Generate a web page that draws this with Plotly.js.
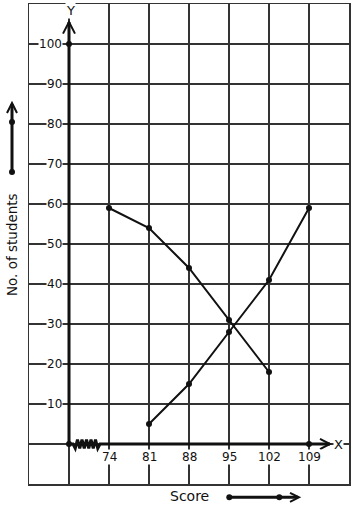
<!DOCTYPE html>
<html>
<head>
<meta charset="utf-8">
<script src="https://cdn.plot.ly/plotly-3.0.1.min.js"></script>
<style>html,body{margin:0;padding:0;background:#fff;}#chart{width:354px;height:510px;}</style>
</head>
<body>
<div id="chart"></div>
<script>
// Data
const scores = [74, 81, 88, 95, 102, 109];
const lessThanX = [81, 88, 95, 102, 109];
const lessThanY = [5, 15, 28, 41, 59];
const moreThanX = [74, 81, 88, 95, 102];
const moreThanY = [59, 54, 44, 31, 18];
const yTickVals = [10, 20, 30, 40, 50, 60, 70, 80, 90, 100];
const yTickText = ['10', '20', '30', '40', '50', '60', '70', '80', '90', '100'];
const xTickText = ['74', '81', '88', '95', '102', '109'];
const axisDotsX = [67, 67, 109];
const axisDotsY = [0, 100, 0];

const FONT = 'DejaVu Sans, Verdana, sans-serif';
const INK = '#111';
const GRID = '#333';

const xGrid = [];
for (let v = 60; v <= 116; v += 7) xGrid.push(v);
const yGrid = [];
for (let v = -10; v <= 110; v += 10) yGrid.push(v);

const traces = [
  {x: moreThanX, y: moreThanY, name: 'More than', mode: 'lines+markers',
   line: {color: INK, width: 2}, marker: {color: INK, size: 6}, cliponaxis: false},
  {x: lessThanX, y: lessThanY, name: 'Less than', mode: 'lines+markers',
   line: {color: INK, width: 2}, marker: {color: INK, size: 6}, cliponaxis: false},
  {x: axisDotsX, y: axisDotsY, mode: 'markers', marker: {color: INK, size: 6},
   cliponaxis: false, hoverinfo: 'skip', showlegend: false}
];

const annotations = [];
yTickVals.forEach((v, i) => {
  annotations.push({xref: 'paper', yref: 'y', x: (63 - 29) / 320, y: v, xanchor: 'right', yanchor: 'middle',
    text: yTickText[i], showarrow: false, bgcolor: '#fff', borderpad: 0,
    font: {family: FONT, size: 12, color: INK}});
});
scores.forEach((v, i) => {
  annotations.push({xref: 'x', yref: 'y', x: v, y: -3.2, xanchor: 'center', yanchor: 'middle',
    text: xTickText[i], showarrow: false, bgcolor: '#fff', borderpad: 0,
    font: {family: FONT, size: 12, color: INK}});
});
annotations.push({xref: 'paper', yref: 'paper', x: (338 - 29) / 320, y: (484 - 444) / 480,
  xanchor: 'center', yanchor: 'middle', text: 'X', showarrow: false, bgcolor: '#fff', borderpad: 0,
  font: {family: FONT, size: 13, color: INK}});
annotations.push({xref: 'paper', yref: 'paper', x: (70.5 - 29) / 320, y: (484 - 11) / 480,
  xanchor: 'center', yanchor: 'middle', text: 'Y', showarrow: false, bgcolor: '#fff', borderpad: 0,
  font: {family: FONT, size: 13, color: INK}});
annotations.push({xref: 'paper', yref: 'paper', x: (12 - 29) / 320, y: (484 - 245) / 480,
  xanchor: 'center', yanchor: 'middle', text: 'No. of students', textangle: -90, showarrow: false,
  font: {family: FONT, size: 13.5, color: INK}});
annotations.push({xref: 'paper', yref: 'paper', x: (189 - 29) / 320, y: (484 - 496) / 480,
  xanchor: 'center', yanchor: 'middle', text: 'Score', showarrow: false,
  font: {family: FONT, size: 14, color: INK}});

// decorations
const px2x = p => 60 + (p - 29) * 56 / 320;
const shapes = [];
// y axis with arrow
shapes.push({type: 'line', xref: 'x', yref: 'y', x0: 67, y0: 0, x1: 67, y1: 105.5, line: {color: INK, width: 3}});
shapes.push({type: 'path', xref: 'x', yref: 'y', path: 'M 65.95,102.6 L 67,105.5 L 68.05,102.6', line: {color: INK, width: 2}});
// x axis with zigzag and arrow
let zz = 'M 67,0 L ' + px2x(73) + ',0';
const z0 = px2x(73), z1 = px2x(100), nSeg = 12;
for (let i = 1; i <= nSeg; i++) {
  const xx = z0 + (z1 - z0) * i / nSeg;
  const yy = i === nSeg ? 0 : (i % 2 ? -1.1 : 1.1);
  zz += ' L ' + xx + ',' + yy;
}
zz += ' L ' + px2x(330) + ',0';
shapes.push({type: 'path', xref: 'x', yref: 'y', path: zz, line: {color: INK, width: 3}});
shapes.push({type: 'path', xref: 'x', yref: 'y',
  path: 'M ' + px2x(320) + ',1.3 L ' + px2x(330) + ',0 L ' + px2x(320) + ',-1.3', line: {color: INK, width: 2}});
// left arrow (paper)
const lx = (12 - 29) / 320;
const py = p => (484 - p) / 480;
const pxp = p => (p - 29) / 320;
shapes.push({type: 'line', xref: 'paper', yref: 'paper', x0: lx, y0: py(172), x1: lx, y1: py(104), line: {color: INK, width: 3}});
shapes.push({type: 'path', xref: 'paper', yref: 'paper',
  path: 'M ' + pxp(7) + ',' + py(113) + ' L ' + lx + ',' + py(103) + ' L ' + pxp(17) + ',' + py(113), line: {color: INK, width: 2}});
[172, 122].forEach(p => shapes.push({type: 'circle', xref: 'paper', yref: 'paper',
  x0: pxp(12 - 3), x1: pxp(12 + 3), y0: py(p + 3), y1: py(p - 3), fillcolor: INK, line: {width: 0}}));
// bottom arrow
shapes.push({type: 'line', xref: 'paper', yref: 'paper', x0: pxp(229), y0: py(497.3), x1: pxp(298), y1: py(497.3), line: {color: INK, width: 3}});
shapes.push({type: 'path', xref: 'paper', yref: 'paper',
  path: 'M ' + pxp(290) + ',' + py(492.8) + ' L ' + pxp(299) + ',' + py(497.3) + ' L ' + pxp(290) + ',' + py(501.8), line: {color: INK, width: 2}});
[229.3, 279.3].forEach(p => shapes.push({type: 'circle', xref: 'paper', yref: 'paper',
  x0: pxp(p - 3), x1: pxp(p + 3), y0: py(497.3 + 3), y1: py(497.3 - 3), fillcolor: INK, line: {width: 0}}));

const layout = {
  width: 354, height: 510,
  margin: {l: 29, r: 5, t: 4, b: 26, pad: 0},
  paper_bgcolor: '#fff', plot_bgcolor: '#fff',
  showlegend: false,
  xaxis: {range: [60, 116], tickvals: xGrid, showticklabels: false, ticks: '',
    showgrid: true, gridcolor: GRID, gridwidth: 1.5, zeroline: false,
    showline: true, mirror: true, linecolor: GRID, linewidth: 1.5, fixedrange: true},
  yaxis: {range: [-10, 110], tickvals: yGrid, showticklabels: false, ticks: '',
    showgrid: true, gridcolor: GRID, gridwidth: 1.5, zeroline: false,
    showline: true, mirror: true, linecolor: GRID, linewidth: 1.5, fixedrange: true},
  annotations: annotations,
  shapes: shapes,
  font: {family: FONT, color: INK}
};

Plotly.newPlot('chart', traces, layout, {displayModeBar: false, staticPlot: true});
</script>
</body>
</html>
